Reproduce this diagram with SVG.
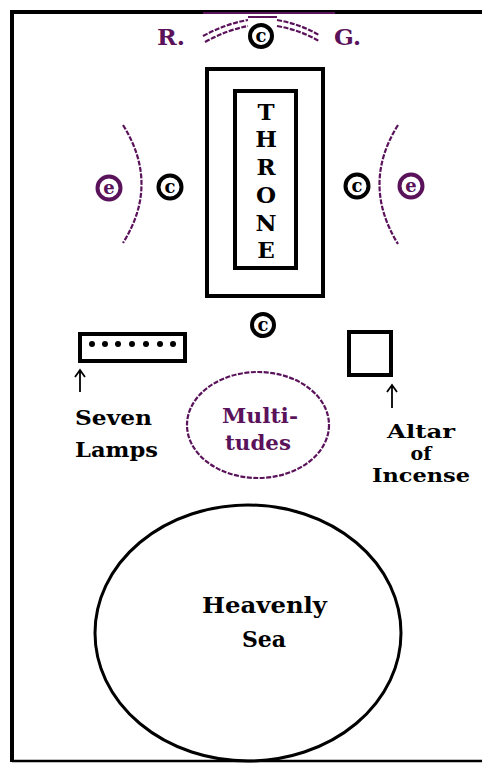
<svg xmlns="http://www.w3.org/2000/svg" width="482" height="764" viewBox="0 0 482 764">
<style>
.k{fill:none;stroke:#000;stroke-width:4}
.p{fill:#5a125a}
.t{font-family:"DejaVu Serif","Liberation Serif",serif;font-weight:bold}
.dash{fill:none;stroke:#5a125a;stroke-width:2.2;stroke-dasharray:5 1.5}
.ring{fill:#fff;stroke:#000;stroke-width:4}
.pring{fill:#fff;stroke:#5a125a;stroke-width:4}
.sym{font-family:"DejaVu Serif","Liberation Serif",serif;font-weight:bold;font-size:18px;text-anchor:middle}
.arr{fill:none;stroke:#000;stroke-width:1.8}
</style>
<rect width="482" height="764" fill="#fff"/>
<g id="frame">
<path d="M12 762 V12 H482" class="k"/>
<path d="M12 761 H482" fill="none" stroke="#000" stroke-width="2.5"/>
<path d="M203 13 H335" fill="none" stroke="#5a125a" stroke-width="2"/>
</g>
<g id="connectors">
<path d="M203 36 Q225 24 248 20" class="dash"/>
<path d="M205 42 Q227 30 248 26" class="dash"/>
<path d="M248 17 H277" fill="none" stroke="#5a125a" stroke-width="2"/>
<path d="M277 20 Q300 24 319 35" class="dash"/>
<path d="M277 26 Q300 30 319 41" class="dash"/>
<path d="M123 125 Q160 184 123 243" class="dash"/>
<path d="M398 125 Q361 184 398 244" class="dash"/>
<path d="M80 392 V371 M75 377 L80 370 L85 377" class="arr"/>
<path d="M392 408 V386 M387 392 L392 385 L397 392" class="arr"/>
</g>
<g id="label-R"><text x="157" y="45" class="t p" font-size="22" textLength="28" lengthAdjust="spacingAndGlyphs">R.</text></g>
<g id="label-G"><text x="334" y="45" class="t p" font-size="22" textLength="27" lengthAdjust="spacingAndGlyphs">G.</text></g>
<g id="c-top"><circle cx="261" cy="36" r="11" class="ring"/><text x="261" y="42" class="sym">c</text></g>
<g id="throne">
<rect x="207" y="69" width="116" height="227" class="k"/>
<rect x="235" y="91" width="61" height="177" class="k"/>
<g class="t" font-size="23" text-anchor="middle">
<text x="266" y="120">T</text>
<text x="266" y="147">H</text>
<text x="266" y="175">R</text>
<text x="266" y="203">O</text>
<text x="266" y="231">N</text>
<text x="266" y="258">E</text>
</g>
</g>
<g id="c-left"><circle cx="170" cy="187" r="11.5" class="ring"/><text x="170" y="193" class="sym">c</text></g>
<g id="c-right"><circle cx="357" cy="186" r="11.5" class="ring"/><text x="357" y="192" class="sym">c</text></g>
<g id="e-left"><circle cx="109" cy="188" r="11.5" class="pring"/><text x="109" y="194" class="sym p">e</text></g>
<g id="e-right"><circle cx="411" cy="186" r="11.5" class="pring"/><text x="411" y="192" class="sym p">e</text></g>
<g id="c-bottom"><circle cx="263" cy="325" r="11" class="ring"/><text x="263" y="331" class="sym">c</text></g>
<g id="seven-lamps">
<rect x="80" y="334" width="105" height="27" class="k"/>
<g fill="#000">
<circle cx="92" cy="344" r="3"/><circle cx="105" cy="344" r="3"/><circle cx="118" cy="344" r="3"/><circle cx="132" cy="344" r="3"/><circle cx="146" cy="344" r="3"/><circle cx="160" cy="344" r="3"/><circle cx="173" cy="344" r="3"/>
</g>
<text x="75" y="425" class="t" font-size="21" textLength="77" lengthAdjust="spacingAndGlyphs">Seven</text>
<text x="75" y="457" class="t" font-size="21" textLength="83" lengthAdjust="spacingAndGlyphs">Lamps</text>
</g>
<g id="altar">
<rect x="349" y="332" width="42" height="43" class="k"/>
<text x="387" y="438" class="t" font-size="19" textLength="68" lengthAdjust="spacingAndGlyphs">Altar</text>
<text x="421" y="460" class="t" font-size="19" text-anchor="middle">of</text>
<text x="372" y="482" class="t" font-size="19" textLength="98" lengthAdjust="spacingAndGlyphs">Incense</text>
</g>
<g id="multitudes">
<ellipse cx="258" cy="425" rx="71" ry="53" class="dash" stroke-width="2"/>
<text x="222" y="423" class="t p" font-size="21" textLength="76" lengthAdjust="spacingAndGlyphs">Multi-</text>
<text x="225" y="450" class="t p" font-size="21" textLength="66" lengthAdjust="spacingAndGlyphs">tudes</text>
</g>
<g id="heavenly-sea">
<ellipse cx="248" cy="633" rx="153" ry="128" fill="none" stroke="#000" stroke-width="3"/>
<text x="202" y="613" class="t" font-size="22" textLength="125" lengthAdjust="spacingAndGlyphs">Heavenly</text>
<text x="264" y="647" class="t" font-size="22" text-anchor="middle">Sea</text>
</g>
</svg>
